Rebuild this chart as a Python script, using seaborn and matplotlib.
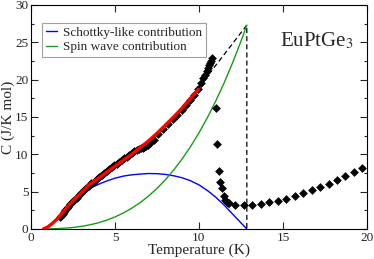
import matplotlib
matplotlib.use("Agg")
import matplotlib.pyplot as plt
import seaborn as sns
import pandas as pd
from matplotlib.ticker import MultipleLocator

# ---- data ----
data_T = [1.73, 1.80, 1.88, 1.95, 2.03, 2.12, 2.22, 2.33, 2.45, 2.58, 2.72, 2.86, 3.00,
          3.15, 3.30, 3.45, 3.60, 3.75, 3.90, 4.05, 4.20, 4.35, 4.50, 4.65, 4.80, 4.95,
          5.10, 5.25, 5.40, 5.55, 5.70, 5.85, 6.00, 6.15, 6.30, 6.45, 6.55, 6.65, 6.75,
          6.85, 6.95, 7.10, 7.30, 7.55, 7.85, 8.17, 8.47, 8.71, 8.97, 9.23, 9.46, 9.72,
          9.96, 10.10, 10.26, 10.36, 10.46, 10.55, 10.61, 10.66, 10.71, 10.75,
          11.01, 11.09, 11.19, 11.27, 11.37, 11.47, 11.57, 11.65, 11.75, 11.80,
          12.16, 12.70, 13.17, 13.69, 14.19, 14.68, 15.20, 15.69, 16.21, 16.71,
          17.22, 17.72, 18.21, 18.71, 19.21, 19.70]
data_C = [1.60, 1.80, 2.05, 2.25, 2.50, 2.75, 3.00, 3.30, 3.60, 3.90, 4.20, 4.50, 4.85,
          5.15, 5.45, 5.80, 6.10, 6.35, 6.65, 6.95, 7.20, 7.45, 7.75, 8.00, 8.25, 8.50,
          8.75, 9.00, 9.25, 9.50, 9.70, 9.95, 10.15, 10.40, 10.60, 10.75, 10.85, 10.90,
          10.95, 11.05, 11.20, 11.45, 11.90, 12.70, 13.40, 14.06, 14.70, 15.30, 15.90,
          16.60, 17.30, 18.00, 18.70, 19.50, 20.20, 20.60, 21.20, 21.60, 21.90, 22.20,
          22.50, 22.85,
          16.20, 11.40, 7.76, 6.34, 5.44, 4.42, 3.88, 3.66, 3.53, 3.44,
          3.17, 3.17, 3.17, 3.35, 3.57, 3.79, 4.06, 4.42, 4.82, 5.18,
          5.58, 6.07, 6.56, 7.09, 7.59, 8.12]

fit_T = [0.73, 1.0, 1.3, 1.6, 1.9, 2.2, 2.6, 3.0, 3.4, 3.8, 4.2, 4.6, 5.0, 5.5, 6.0,
         6.5, 7.0, 7.5, 8.0, 8.5, 9.0, 9.5, 9.96]
fit_C = [0.0, 0.27, 0.80, 1.45, 2.25, 3.05, 4.00, 4.85, 5.80, 6.45, 7.10, 7.75, 8.40,
         9.20, 10.00, 10.90, 11.80, 12.80, 13.90, 15.00, 16.20, 17.50, 18.70]

schottky_T = [0.73, 1.0, 1.3, 1.6, 1.9, 2.2, 2.6, 3.0, 3.4, 3.8, 4.2, 4.6, 5.0, 5.5,
              6.0, 6.5, 7.0, 7.5, 8.0, 8.5, 9.0, 9.5, 10.0, 10.5, 11.0, 11.5, 12.0,
              12.4, 12.85]
schottky_C = [0.0, 0.25, 0.75, 1.40, 2.20, 3.00, 3.90, 4.65, 5.25, 5.75, 6.15, 6.50,
              6.80, 7.08, 7.25, 7.35, 7.42, 7.40, 7.30, 7.12, 6.85, 6.45, 5.90, 5.15,
              4.25, 3.20, 2.00, 1.05, 0.0]

spin_T = [1.0, 1.5, 2.0, 2.5, 3.0, 3.5, 4.0, 4.5, 5.0, 5.5, 6.0, 6.5, 7.0, 7.5, 8.0,
          8.5, 9.0, 9.5, 10.0, 10.5, 11.0, 11.5, 12.0, 12.5, 12.85]
spin_C = [0.013, 0.043, 0.103, 0.201, 0.347, 0.552, 0.824, 1.17, 1.61, 2.14, 2.78,
          3.53, 4.41, 5.43, 6.59, 7.90, 9.38, 11.03, 12.87, 14.90, 17.13, 19.57,
          22.24, 25.13, 27.30]

entropy_T = [10.0, 12.85, 12.85]
entropy_C = [19.0, 27.30, 0.0]

x_ticks = [0, 5, 10, 15, 20]
y_ticks = [0, 5, 10, 15, 20, 25, 30]

# ---- plot ----
sns.set_style("ticks")
plt.rcParams['font.family'] = ['Liberation Serif', 'DejaVu Serif']
plt.rcParams['mathtext.fontset'] = 'stix'

fig = plt.figure(figsize=(3.74, 2.59), dpi=100)
ax = fig.add_axes([0.083, 0.116, 0.898, 0.865])

df_fit = pd.DataFrame({"T": fit_T, "C": fit_C})
df_s = pd.DataFrame({"T": schottky_T, "C": schottky_C})
df_sw = pd.DataFrame({"T": spin_T, "C": spin_C})
df_e = pd.DataFrame({"T": entropy_T, "C": entropy_C})
df_d = pd.DataFrame({"T": data_T, "C": data_C})

sns.lineplot(data=df_e, x="T", y="C", ax=ax, color="black", lw=0.9, sort=False,
             estimator=None, linestyle=(0, (4, 2.5)))
sns.lineplot(data=df_s, x="T", y="C", ax=ax, color="#0000ff", lw=1.0, sort=False,
             estimator=None, label="Schottky-like contribution")
sns.lineplot(data=df_sw, x="T", y="C", ax=ax, color="#1a9a1a", lw=1.0, sort=False,
             estimator=None, label="Spin wave contribution")
sns.scatterplot(data=df_d, x="T", y="C", ax=ax, marker="D", s=20, color="black",
                linewidth=0, zorder=3)
sns.lineplot(data=df_fit, x="T", y="C", ax=ax, color="#ff0000", lw=2.4, sort=False,
             estimator=None, zorder=4)

ax.set_xlim(0, 20)
ax.set_ylim(0, 30)
ax.set_xticks(x_ticks)
ax.set_yticks(y_ticks)
ax.yaxis.set_minor_locator(MultipleLocator(2.5))
ax.tick_params(axis='both', which='both', direction='in', top=True, right=True,
               labelsize=9.5, pad=2, width=0.8)
ax.tick_params(which='major', length=5)
ax.tick_params(which='minor', length=2.5)
for s in ax.spines.values():
    s.set_linewidth(0.8)
    s.set_color("black")

ax.set_xlabel("Temperature (K)", fontsize=11, labelpad=0)
ax.set_ylabel("C (J/K mol)", fontsize=11, labelpad=0)

ax.text(14.8, 25.2, "EuPtGe$_3$", fontsize=15, va="center", ha="left")

leg = ax.legend(loc="upper left", bbox_to_anchor=(0.033, 0.92), borderaxespad=0,
                fontsize=9.5, frameon=True, fancybox=False, handlelength=0.8,
                handletextpad=0.5, borderpad=0.3, labelspacing=0.15)
leg.get_frame().set_edgecolor("#888888")
leg.get_frame().set_linewidth(0.8)

fig.savefig("out.png", dpi=100)
